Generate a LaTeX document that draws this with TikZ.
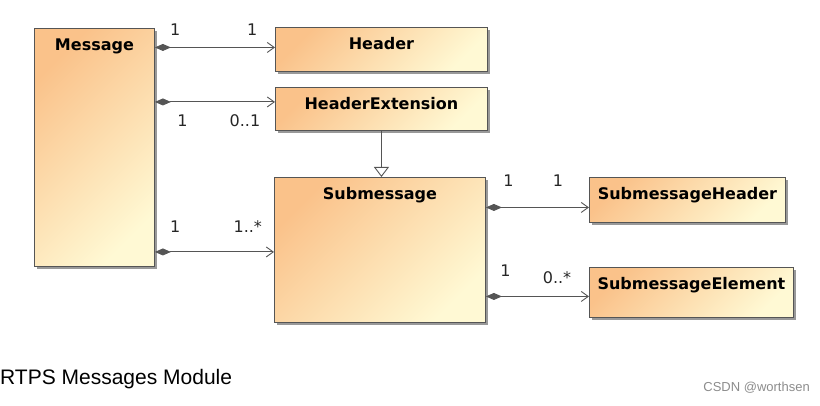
\documentclass[tikz,border=0pt]{standalone}
\usepackage{fontspec}
\setsansfont{DejaVu Sans}
\newfontfamily\capfont{Liberation Sans}
\usetikzlibrary{arrows.meta,shadows}

\definecolor{clsorange}{RGB}{250,194,138}
\definecolor{clsyellow}{RGB}{255,249,212}
\definecolor{umlline}{RGB}{85,85,85}

\tikzset{
    umlclass/.style={draw=umlline, line width=0.9pt, anchor=north west, inner sep=0pt,
        top color=clsorange, bottom color=clsyellow, shading angle=45,
        drop shadow={shadow xshift=3pt, shadow yshift=-3pt, fill=black!40, opacity=1}},
    clsname/.style={anchor=north, yshift=-10pt, inner sep=0pt, text height=12pt,
        font=\sffamily\bfseries\fontsize{16}{18}\selectfont},
    mult/.style={inner sep=0pt, font=\sffamily\fontsize{16}{18}\selectfont, text=black!85},
    comp/.style={draw=umlline, line width=0.9pt,
        {Diamond[length=16pt,width=7pt]}-{Straight Barb[length=7pt,width=10pt]}},
    gen/.style={draw=umlline, line width=0.9pt,
        -{Triangle[open,length=10pt,width=15pt,fill=white]}},
}

\begin{document}
\begin{tikzpicture}[x=1pt,y=-1pt]
    \useasboundingbox (0,0) rectangle (820,406);

    \node[umlclass, minimum width=120pt, minimum height=238pt,
        label={[clsname, name=msgname]north:Message}] (msg) at (34,28) {};
    \node[umlclass, minimum width=212pt, minimum height=44pt,
        label={[clsname, name=hdrname]north:Header}] (hdr) at (275,27) {};
    \node[umlclass, minimum width=212pt, minimum height=43pt,
        label={[clsname, name=hextname]north:HeaderExtension}] (hext) at (275,87) {};
    \node[umlclass, minimum width=211pt, minimum height=145pt,
        label={[clsname, name=subname]north:Submessage}] (sub) at (274,177) {};
    \node[umlclass, minimum width=196pt, minimum height=45pt,
        label={[clsname, name=shname]north:SubmessageHeader}] (sh) at (589,177) {};
    \node[umlclass, minimum width=204pt, minimum height=50pt,
        label={[clsname, name=sename]north:SubmessageElement}] (se) at (589,267) {};

    \coordinate (hdrin) at ([yshift=2pt]hdr.west);
    \coordinate (hextin) at ([yshift=7pt]hext.west);
    \coordinate (subin) at ([yshift=-2pt]sub.west);
    \coordinate (shin) at ([yshift=-7.5pt]sh.west);
    \coordinate (sein) at ([yshift=-4pt]se.west);

    \draw[comp] (msg.east |- hdrin) -- (hdrin)
        node[mult, pos=0.17, above=11pt] (m1) {1}
        node[mult, pos=0.81, above=11pt] (m2) {1};
    \draw[comp] (msg.east |- hextin) -- (hextin)
        node[mult, pos=0.23, below=12pt] (m3) {1}
        node[mult, pos=0.75, below=12pt] (m4) {0..1};
    \draw[comp] (msg.east |- subin) -- (subin)
        node[mult, pos=0.17, above=19pt] (m5) {1}
        node[mult, pos=0.78, above=19pt] (m6) {1..*};
    \draw[comp] (sub.east |- shin) -- (shin)
        node[mult, pos=0.22, above=20pt] (m7) {1}
        node[mult, pos=0.70, above=20pt] (m8) {1};
    \draw[comp] (sub.east |- sein) -- (sein)
        node[mult, pos=0.19, above=19pt] (m9) {1}
        node[mult, pos=0.69, above=12pt] (m10) {0..*};

    \draw[gen] (hext.south) -- (hext.south |- sub.north);

    \node[anchor=west, inner sep=0pt, font=\capfont\fontsize{21}{24}\selectfont] (caption) at (0,379) {RTPS Messages Module};
    \node[anchor=east, inner sep=0pt, text=black!45, font=\capfont\fontsize{13}{15}\selectfont] (mark) at (810,388) {CSDN @worthsen};
\end{tikzpicture}
\end{document}
